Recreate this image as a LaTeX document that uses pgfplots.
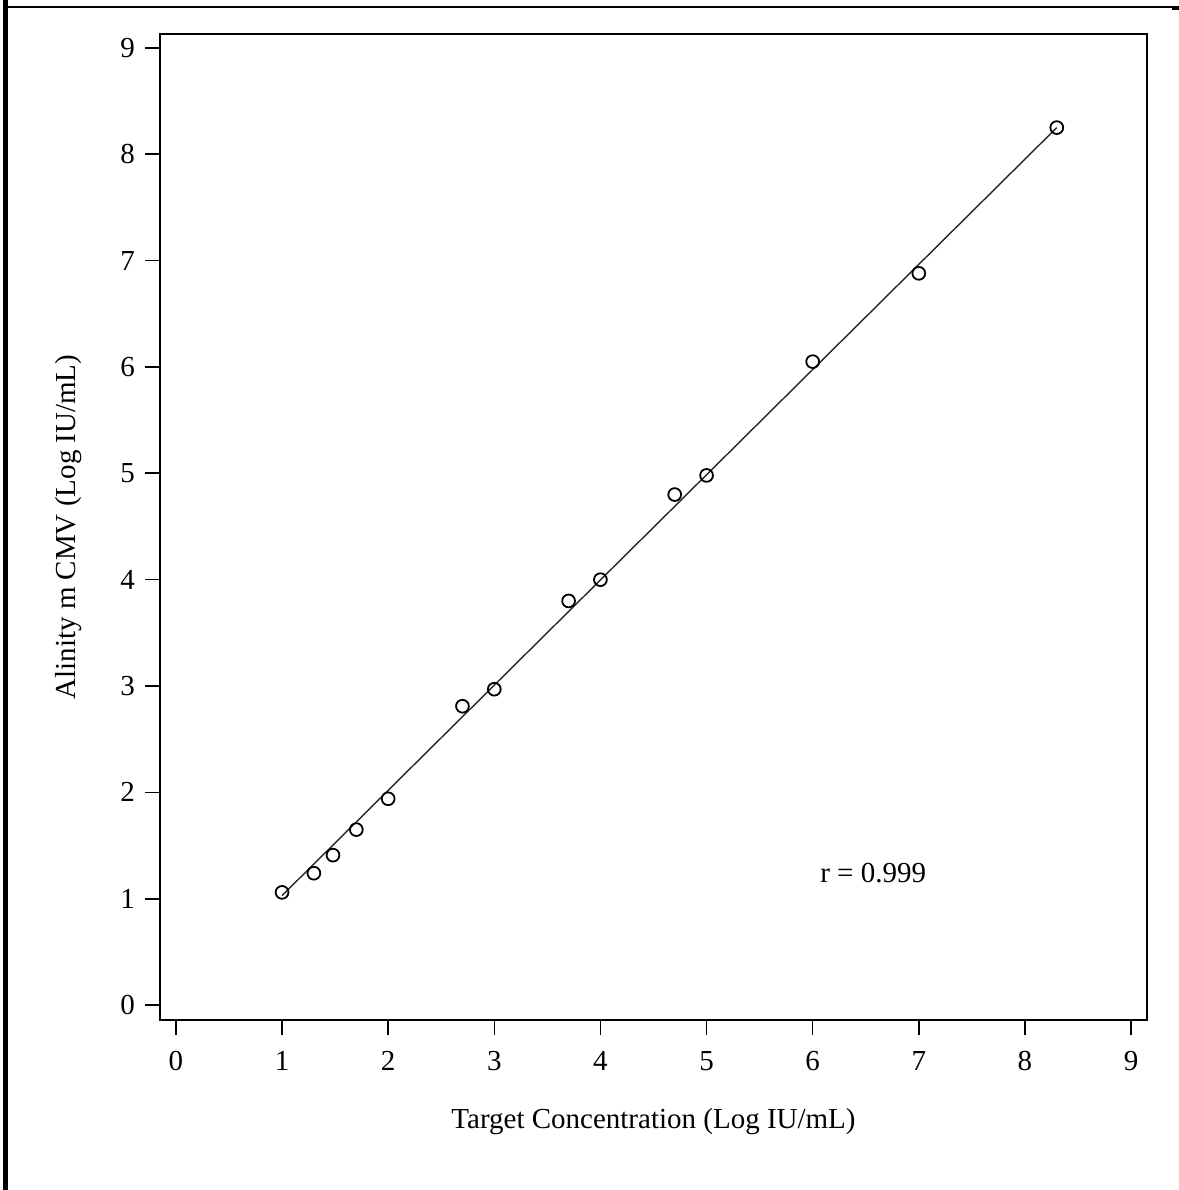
\documentclass[border=0pt]{standalone}
\usepackage{pgfplots}
\pgfplotsset{compat=1.18}
\usepackage{fontspec}
\setmainfont{Liberation Serif}
\begin{document}
\fontsize{14.5}{17}\selectfont
\begin{tikzpicture}[x=0.5pt,y=0.5pt]
  % page frame (px -> 0.5pt, y measured from bottom)
  \path[use as bounding box] (0,0) rectangle (1179,1190);
  \fill[black] (3,0) rectangle (8,1190);
  \draw[line width=1pt] (8,1183) -- (1172,1183);
  \fill[black] (1172,1180) rectangle (1179,1184);
  \begin{axis}[
    at={(80pt,85pt)}, anchor=south west,
    scale only axis,
    width=493.5pt, height=493pt,
    xmin=-0.15, xmax=9.15,
    ymin=-0.14, ymax=9.13,
    xtick={0,1,...,9}, ytick={0,1,...,9},
    tick align=outside,
    major tick length=7.5pt,
    xtick pos=bottom, ytick pos=left,
    axis line style={line width=0.9pt},
    every tick/.style={black, line width=0.8pt},
    /pgf/number format/assume math mode=true,
    xticklabel style={yshift=-3pt},
    xlabel={Target Concentration (Log IU/mL)},
    ylabel={Alinity m CMV (Log IU/mL)},
    xlabel style={yshift=-9pt},
    ylabel style={yshift=9.5pt},
  ]
    % regression line
    \addplot[black!85, line width=0.7pt] coordinates {(1.0,1.03) (8.30,8.25)};
    % observed means
    \addplot[only marks, mark=o, mark size=3.2pt, mark options={line width=0.9pt, black}]
      coordinates {
        (1.00,1.06) (1.30,1.24) (1.48,1.41) (1.70,1.65) (2.00,1.94)
        (2.70,2.81) (3.00,2.97) (3.70,3.80) (4.00,4.00) (4.70,4.80)
        (5.00,4.98) (6.00,6.05) (7.00,6.88) (8.30,8.25)
      };
    \node at (axis cs:6.57,1.24) {r = 0.999};
  \end{axis}
\end{tikzpicture}
\end{document}
